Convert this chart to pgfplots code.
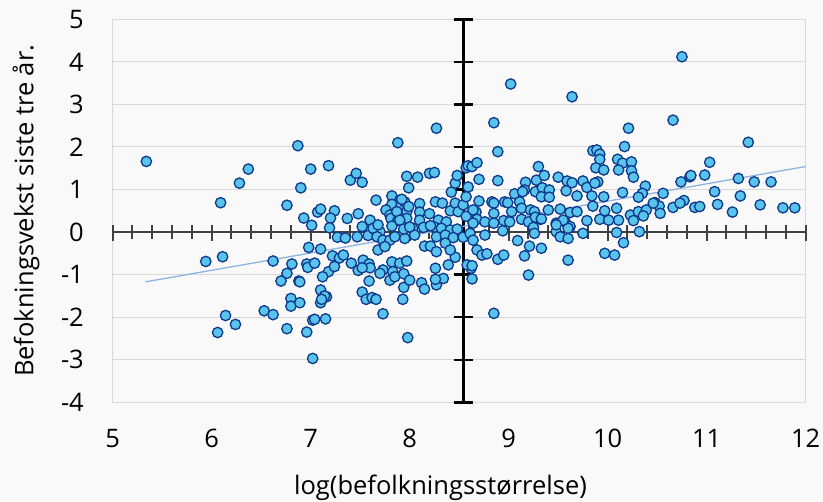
\documentclass[border=0pt]{standalone}
\usepackage{fontspec}
\setmainfont{Open Sans}
\usepackage{pgfplots}
\pgfplotsset{compat=1.18}
\definecolor{bgc}{RGB}{249,249,249}
\definecolor{gridc}{RGB}{217,217,217}
\definecolor{ptfill}{RGB}{88,196,236}
\definecolor{ptedge}{RGB}{14,56,140}
\definecolor{trendc}{RGB}{142,180,227}
\definecolor{haxis}{RGB}{64,64,64}

\pgfplotstableread{
x y
5.34 1.66
6.09 0.69
6.28 1.15
6.37 1.48
5.94 -0.69
6.11 -0.58
6.62 -0.68
6.14 -1.96
6.24 -2.17
6.06 -2.36
6.53 -1.85
6.62 -1.94
6.87 2.03
6.90 1.04
6.76 0.63
7.00 1.48
7.18 1.56
6.93 0.33
7.01 0.16
7.07 0.47
7.10 0.54
7.24 0.50
7.20 0.33
7.19 0.10
7.27 -0.12
7.35 -0.14
6.81 -0.75
6.96 -0.75
6.97 -0.83
7.04 -0.73
6.76 -0.97
6.70 -1.15
6.88 -1.15
6.89 -1.17
6.98 -0.36
7.10 -0.40
7.22 -0.56
7.29 -0.61
7.33 -0.54
7.18 -0.93
7.12 -1.05
7.24 -0.81
6.80 -1.56
6.80 -1.74
6.89 -1.66
7.10 -1.36
7.16 -1.52
7.14 -1.50
7.10 -1.66
7.11 -1.58
6.76 -2.27
6.96 -2.35
7.02 -2.07
7.04 -2.05
7.15 -2.04
7.02 -2.97
7.37 0.32
7.40 1.22
7.46 1.38
7.52 1.17
7.48 0.43
7.60 0.28
7.52 0.13
7.47 -0.11
7.58 -0.08
7.66 0.75
7.65 0.05
7.70 0.01
7.88 2.10
7.82 0.85
7.90 0.75
7.82 0.65
7.91 0.61
7.95 0.71
7.76 0.52
7.80 0.40
7.97 0.48
7.81 0.32
7.88 0.27
7.97 0.32
7.82 0.14
7.97 1.31
7.99 1.04
7.92 0.77
7.87 0.48
7.90 0.28
7.63 0.09
7.68 0.17
7.67 -0.11
7.73 -0.19
7.80 -0.19
7.85 -0.11
7.95 -0.15
7.94 0.07
7.99 0.60
7.41 -0.73
7.48 -0.90
7.53 -0.66
7.59 -0.75
7.60 -0.84
7.52 -0.84
7.59 -1.15
7.52 -1.41
7.56 -1.58
7.62 -1.54
7.66 -1.58
7.73 -1.92
7.68 -0.42
7.75 -0.34
7.82 -0.70
7.90 -0.73
7.97 -0.68
7.73 -0.89
7.70 -0.97
7.80 -1.13
7.83 -0.93
7.85 -1.05
7.94 -0.98
7.94 -1.30
7.93 -1.58
7.98 -2.48
8.08 1.29
8.20 1.38
8.25 1.40
8.27 2.44
8.10 0.67
8.10 0.47
8.20 0.43
8.10 0.28
8.26 0.71
8.33 0.68
8.41 0.50
8.46 0.68
8.42 0.94
8.46 1.15
8.48 1.33
8.49 0.48
8.29 0.28
8.37 0.24
8.54 0.64
8.03 0.09
8.05 -0.07
8.14 0.11
8.26 0.11
8.32 0.09
8.41 0.05
8.48 0.07
8.00 0.12
8.21 0.15
8.27 -0.11
8.36 -0.07
8.44 -0.13
8.54 -0.12
8.15 -0.33
8.21 -0.33
8.27 -0.46
8.36 -0.26
8.26 -0.85
8.27 -1.24
8.34 -1.09
8.39 -0.77
8.46 -0.59
8.12 -1.19
8.15 -1.34
8.00 -1.13
8.26 -1.11
8.41 -0.42
8.57 1.51
8.59 1.56
8.63 1.54
8.68 1.63
8.70 1.24
8.59 1.06
8.57 0.83
8.70 0.73
8.57 0.37
8.67 0.47
8.68 0.30
8.64 0.52
8.83 0.71
8.85 0.68
8.85 0.44
8.64 0.21
8.76 0.24
8.85 0.21
8.85 2.57
8.89 1.89
8.89 1.21
8.61 -0.03
8.64 -0.19
8.68 -0.42
8.62 -0.85
8.63 -1.10
8.58 -0.77
8.76 -0.07
8.73 -0.54
8.78 -0.51
8.63 -0.79
8.85 -1.91
8.89 -0.64
8.95 -0.54
9.02 3.48
9.64 3.18
9.30 1.54
9.28 1.22
9.36 1.33
9.17 1.17
9.16 0.99
9.06 0.90
9.14 0.95
9.27 0.95
9.34 1.04
9.41 0.99
9.33 0.83
9.41 0.82
9.50 1.29
9.59 1.20
9.64 1.16
9.58 0.97
9.69 0.85
9.75 1.20
9.79 1.05
9.84 0.85
9.90 1.18
9.87 1.15
9.96 0.83
9.85 1.91
9.89 1.93
9.92 1.83
9.92 1.71
9.88 1.51
9.96 1.46
8.96 0.71
8.99 0.69
9.03 0.48
9.11 0.71
9.13 0.56
9.22 0.52
9.26 0.48
9.32 0.30
9.40 0.52
9.52 0.54
9.62 0.46
9.69 0.48
9.85 0.61
9.97 0.50
9.92 0.30
9.79 0.27
8.95 0.27
9.01 0.24
9.13 0.30
9.20 0.24
9.27 0.35
9.33 0.31
9.48 0.21
9.57 0.24
9.62 0.13
8.94 0.03
9.09 -0.20
9.21 -0.33
9.16 -0.56
9.33 -0.38
9.25 0.11
9.26 -0.03
9.48 0.01
9.52 -0.11
9.60 -0.15
9.60 0.09
9.60 -0.66
9.75 -0.03
9.97 -0.50
9.20 -1.01
9.55 0.28
9.48 0.17
10.21 2.44
10.66 2.63
10.17 2.01
10.10 1.71
10.15 1.62
10.11 1.46
10.24 1.65
10.24 1.44
10.26 1.29
10.38 1.08
10.35 0.91
10.31 0.82
10.15 0.93
10.56 0.91
10.48 0.69
10.52 0.61
10.66 0.58
10.74 1.18
10.77 0.74
10.83 1.30
10.09 0.56
10.11 0.28
10.01 0.28
10.23 0.40
10.31 0.48
10.39 0.52
10.36 0.38
10.26 0.27
10.07 -0.54
10.09 -0.01
10.16 -0.25
10.32 0.01
10.46 0.68
10.53 0.44
10.75 4.12
11.42 2.11
11.03 1.64
10.84 1.33
10.98 1.34
11.32 1.26
11.48 1.18
11.65 1.18
11.08 0.95
11.34 0.85
11.11 0.65
11.54 0.64
11.26 0.47
11.77 0.57
11.89 0.57
10.73 0.68
10.88 0.58
10.93 0.60
}\kommuner

\begin{document}
\begin{tikzpicture}
\fill[bgc] (-112.7bp,-99.7bp) rectangle (710.3bp,402.3bp);
\begin{axis}[
    at={(0,0)}, anchor=south west,
    scale only axis,
    width=693bp, height=383bp,
    xmin=5, xmax=12, ymin=-4, ymax=5,
    xtick={5,...,12}, ytick={-4,...,5},
    major tick length=0pt, minor tick length=0pt,
    tick style={draw=none},
    ymajorgrids,
    grid style={gridc, line width=1bp},
    axis line style={gridc, line width=1bp},
    /pgf/number format/assume math mode=true,
    tick label style={font=\fontsize{25.5bp}{30bp}\selectfont, inner sep=0pt},
    yticklabel style={anchor=east, xshift=-28.7bp},
    xticklabel style={anchor=north, yshift=-27bp},
    label style={font=\fontsize{25.5bp}{30bp}\selectfont, inner sep=0pt},
    xlabel={log(befolkningsstørrelse)},
    xlabel style={at={(axis description cs:0.473,-0.242)}, anchor=base},
    ylabel={Befokningsvekst siste tre år.},
    ylabel style={at={(axis description cs:-0.1146,0.5)}, anchor=base},
    clip=false,
]
% kryssende akser
\draw[haxis, line width=2.2bp] (axis cs:5,0) -- (axis cs:12,0);
\pgfplotsinvokeforeach{5,6,7,8,9,10,11,12}{
  \draw[haxis, line width=2bp] ([yshift=6.7bp]axis cs:#1,0) -- ([yshift=-9.3bp]axis cs:#1,0);
}
\pgfplotsinvokeforeach{5.2,5.4,5.6,5.8,6.2,6.4,6.6,6.8,7.2,7.4,7.6,7.8,8.2,8.4,8.6,8.8,9.2,9.4,9.6,9.8,10.2,10.4,10.6,10.8,11.2,11.4,11.6,11.8}{
  \draw[haxis, line width=2bp] ([yshift=6.7bp]axis cs:#1,0) -- ([yshift=-6.7bp]axis cs:#1,0);
}
\draw[black, line width=3bp] (axis cs:8.545,-4) -- (axis cs:8.545,5);
\pgfplotsinvokeforeach{-4,-3,-2,-1,0,1,2,3,4,5}{
  \draw[black, line width=2.4bp] ([xshift=-9.5bp]axis cs:8.545,#1) -- ([xshift=9.5bp]axis cs:8.545,#1);
}

\addplot[only marks, mark=*, mark size=5.2bp,
  mark options={fill=ptfill, draw=ptedge, line width=1.3bp}] table {\kommuner};
\addplot[trendc, line width=1.3bp, no marks] coordinates {(5.33,-1.17) (12,1.54)};
\end{axis}
\pgfresetboundingbox
\path (-112.7bp,-99.7bp) rectangle (710.3bp,402.3bp);
\end{tikzpicture}
\end{document}
